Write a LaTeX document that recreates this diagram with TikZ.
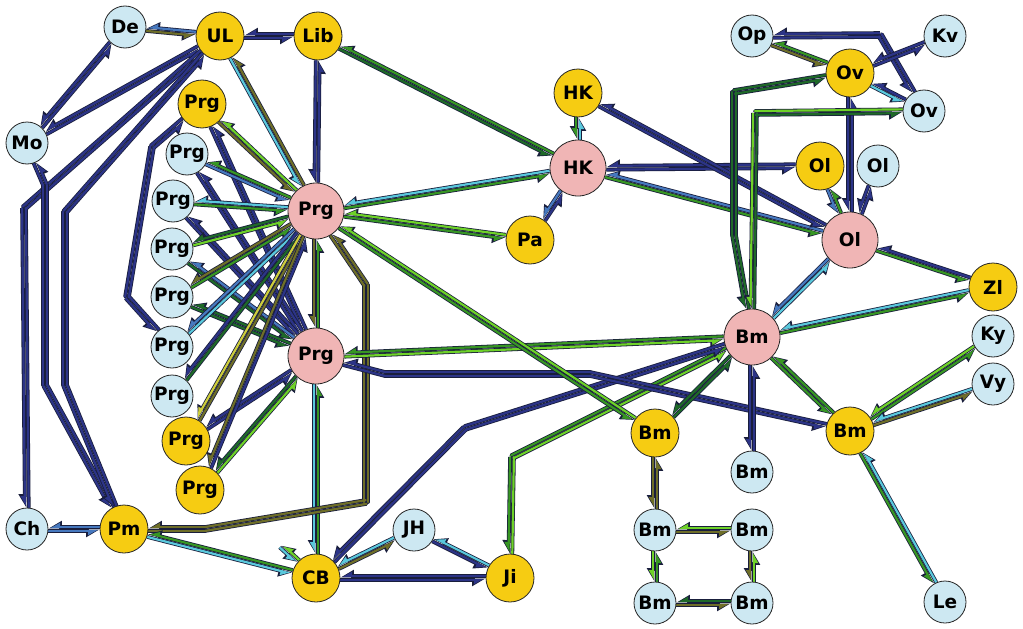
\documentclass[tikz,border=0pt]{standalone}
\usepackage{fontspec}
\setmainfont{DejaVu Sans}
\usetikzlibrary{calc,arrows.meta}
\pgfdeclarelayer{bg}
\pgfsetlayers{bg,main}
\definecolor{nv}{RGB}{44,52,135}
\definecolor{dg}{RGB}{30,105,40}
\definecolor{gr}{RGB}{55,150,35}
\definecolor{lg}{RGB}{110,210,40}
\definecolor{ol}{RGB}{110,110,40}
\definecolor{cy}{RGB}{90,200,220}
\definecolor{sb}{RGB}{70,120,190}
\definecolor{yl}{RGB}{205,205,60}
\definecolor{edk}{RGB}{25,30,60}
\definecolor{lbc}{RGB}{205,232,242}
\definecolor{ywc}{RGB}{246,204,18}
\definecolor{pkc}{RGB}{240,181,181}
\newcommand\boff{1.9pt}
\tikzset{
 nd/.style={circle, draw=black!85, line width=0.8pt, inner sep=0pt, font=\fontsize{18.5}{18.5}\selectfont\bfseries},
 lbn/.style={nd, fill=lbc, minimum size=42pt},
 ywn/.style={nd, fill=ywc, minimum size=48pt},
 pkn/.style={nd, fill=pkc, minimum size=56pt},
 bo/.style={line width=3.8pt, draw=edk},
 bi/.style={line width=2.2pt, draw=#1},
 tipo/.style={-{Triangle[harpoon,swap,length=11pt,width=12pt]}},
 tipi/.style={-{Triangle[harpoon,swap,length=8pt,width=8pt]}, shorten >=1.6pt},
}
\newcommand\segO[3]{\ifnum#3=1\relax
 \draw[bo,tipo] ($(#1)!\boff!-90:(#2)$) -- ($(#2)!\boff!90:(#1)$);\else
 \draw[bo,line cap=round] ($(#1)!\boff!-90:(#2)$) -- ($(#2)!\boff!90:(#1)$);\fi}
\newcommand\segI[4]{\ifnum#4=1\relax
 \draw[bi=#3,tipi] ($(#1)!\boff!-90:(#2)$) -- ($(#2)!\boff!90:(#1)$);\else
 \draw[bi=#3,line cap=round] ($(#1)!\boff!-90:(#2)$) -- ($(#2)!\boff!90:(#1)$);\fi}
% straight edge: a, b, colour a->b, colour b->a
\newcommand\E[4]{%
 \path (#1) -- (#2) coordinate[pos=0] (s) coordinate[pos=1] (t);
 \segO{s}{t}{1}\segO{t}{s}{1}\segI{s}{t}{#3}{1}\segI{t}{s}{#4}{1}}
% one bend
\newcommand\EB[5]{%
 \path (#1) -- (#2) coordinate[pos=0] (s);
 \path (#2) -- (#3) coordinate[pos=1] (t);
 \segO{s}{#2}{0}\segO{#2}{t}{1}\segO{t}{#2}{0}\segO{#2}{s}{1}%
 \segI{s}{#2}{#4}{0}\segI{#2}{t}{#4}{1}\segI{t}{#2}{#5}{0}\segI{#2}{s}{#5}{1}}
% two bends
\newcommand\EBB[6]{%
 \path (#1) -- (#2) coordinate[pos=0] (s);
 \path (#3) -- (#4) coordinate[pos=1] (t);
 \segO{s}{#2}{0}\segO{#2}{#3}{0}\segO{#3}{t}{1}\segO{t}{#3}{0}\segO{#3}{#2}{0}\segO{#2}{s}{1}%
 \segI{s}{#2}{#5}{0}\segI{#2}{#3}{#5}{0}\segI{#3}{t}{#5}{1}\segI{t}{#3}{#6}{0}\segI{#3}{#2}{#6}{0}\segI{#2}{s}{#6}{1}}
% three bends
\newcommand\EBBB[7]{%
 \path (#1) -- (#2) coordinate[pos=0] (s);
 \path (#4) -- (#5) coordinate[pos=1] (t);
 \segO{s}{#2}{0}\segO{#2}{#3}{0}\segO{#3}{#4}{0}\segO{#4}{t}{1}%
 \segO{t}{#4}{0}\segO{#4}{#3}{0}\segO{#3}{#2}{0}\segO{#2}{s}{1}%
 \segI{s}{#2}{#6}{0}\segI{#2}{#3}{#6}{0}\segI{#3}{#4}{#6}{0}\segI{#4}{t}{#6}{1}%
 \segI{t}{#4}{#7}{0}\segI{#4}{#3}{#7}{0}\segI{#3}{#2}{#7}{0}\segI{#2}{s}{#7}{1}}
\begin{document}
\begin{tikzpicture}[x=1pt,y=-1pt]
\useasboundingbox (0,0) rectangle (1023,629);
% nodes
\node[lbn] (De) at (125,27) {De};
\node[ywn] (UL) at (220,36) {UL};
\node[ywn] (Lib) at (318,36) {Lib};
\node[lbn] (Mo) at (27,143) {Mo};
\node[ywn] (Y1) at (202,104) {Prg};
\node[lbn] (A) at (187,154) {Prg};
\node[lbn] (B) at (173,201) {Prg};
\node[lbn] (C) at (172,249) {Prg};
\node[lbn] (D) at (172,297) {Prg};
\node[lbn] (E) at (172,347) {Prg};
\node[lbn] (F) at (172,396) {Prg};
\node[ywn] (G) at (186,441) {Prg};
\node[ywn] (H) at (200,490) {Prg};
\node[pkn] (P1) at (316,211) {Prg};
\node[pkn] (P2) at (316,356) {Prg};
\node[lbn] (Ch) at (27,529) {Ch};
\node[ywn] (Pm) at (124,529) {Pm};
\node[ywn] (CB) at (316,578) {CB};
\node[lbn] (JH) at (414,530) {JH};
\node[ywn] (Ji) at (510,578) {Ji};
\node[ywn] (HK1) at (578,93) {HK};
\node[pkn] (HK2) at (578,168) {HK};
\node[ywn] (Pa) at (530,240) {Pa};
\node[lbn] (Op) at (752,36) {Op};
\node[lbn] (Kv) at (945,36) {Kv};
\node[ywn] (V1) at (850,73) {Ov};
\node[lbn] (V2) at (924,111) {Ov};
\node[ywn] (O1) at (820,166) {Ol};
\node[lbn] (O2) at (878,166) {Ol};
\node[pkn] (O0) at (850,240) {Ol};
\node[ywn] (Zl) at (993,287) {Zl};
\node[pkn] (B0) at (752,337) {Bm};
\node[lbn] (Ky) at (993,336) {Ky};
\node[lbn] (Vy) at (993,384) {Vy};
\node[ywn] (BL) at (655,433) {Bm};
\node[lbn] (B1) at (752,472) {Bm};
\node[ywn] (BR) at (850,431) {Bm};
\node[lbn] (B2) at (655,530) {Bm};
\node[lbn] (B3) at (752,530) {Bm};
\node[lbn] (B4) at (655,603) {Bm};
\node[lbn] (B5) at (752,603) {Bm};
\node[lbn] (Le) at (945,602) {Le};
% bend points
\coordinate (k1) at (24,208);
\coordinate (k2) at (45,185);
\coordinate (k3) at (45,385);
\coordinate (k4) at (65,212);
\coordinate (k5) at (65,385);
\coordinate (k6) at (152,147);
\coordinate (k7) at (127,297);
\coordinate (k8) at (366,285);
\coordinate (k9) at (366,502);
\coordinate (k10) at (205,529);
\coordinate (k11) at (512,457);
\coordinate (k12) at (465,428);
\coordinate (k13) at (385,374);
\coordinate (k14) at (590,374);
\coordinate (k15) at (880,35);
\coordinate (k16) at (734,92);
\coordinate (k17) at (734,235);
\coordinate (k18) at (755,113);
\coordinate (k19) at (281,546);
\begin{pgfonlayer}{bg}
\fill[white] (0,0) rectangle (1023,629);
\E{De}{UL}{ol}{sb}
\E{UL}{Lib}{nv}{nv}
\E{De}{Mo}{nv}{nv}
\E{UL}{Mo}{nv}{nv}
\EB{UL}{k1}{Ch}{nv}{nv}
\EBB{Mo}{k2}{k3}{Pm}{nv}{nv}
\EBB{UL}{k4}{k5}{Pm}{nv}{nv}
\E{Ch}{Pm}{sb}{sb}
\E{UL}{P1}{cy}{ol}
\E{Lib}{P1}{nv}{nv}
\E{Lib}{HK2}{dg}{gr}
\E{Y1}{P1}{ol}{lg}
\E{Y1}{P2}{nv}{nv}
\E{A}{P1}{sb}{gr}
\E{A}{P2}{nv}{nv}
\E{B}{P1}{gr}{cy}
\E{B}{P2}{nv}{nv}
\E{C}{P1}{lg}{dg}
\E{C}{P2}{dg}{sb}
\E{D}{P1}{gr}{ol}
\E{D}{P2}{dg}{dg}
\E{E}{P1}{cy}{sb}
\E{F}{P1}{dg}{nv}
\E{G}{P1}{ol}{yl}
\E{G}{P2}{nv}{nv}
\E{H}{P1}{nv}{ol}
\E{H}{P2}{lg}{dg}
\EBB{Y1}{k6}{k7}{E}{nv}{nv}
\E{P1}{P2}{ol}{gr}
\E{P2}{CB}{cy}{gr}
\EBBB{P1}{k8}{k9}{k10}{Pm}{ol}{ol}
\E{Pm}{CB}{cy}{gr}
\E{CB}{JH}{ol}{cy}
\E{CB}{Ji}{nv}{nv}
\E{JH}{Ji}{nv}{cy}
\E{CB}{k19}{lg}{cy}
\EB{Ji}{k11}{B0}{lg}{gr}
\EB{CB}{k12}{B0}{nv}{nv}
\E{P2}{B0}{lg}{gr}
\EBB{P2}{k13}{k14}{BR}{nv}{nv}
\E{P1}{BL}{gr}{lg}
\E{P1}{Pa}{gr}{lg}
\E{P1}{HK2}{gr}{cy}
\E{HK1}{HK2}{gr}{cy}
\E{HK2}{Pa}{sb}{nv}
\E{HK2}{O1}{nv}{nv}
\E{HK2}{O0}{gr}{sb}
\E{HK1}{O0}{nv}{nv}
\E{O1}{O0}{sb}{gr}
\E{O2}{O0}{nv}{nv}
\E{V1}{O0}{nv}{nv}
\E{Op}{V1}{ol}{gr}
\EB{Op}{k15}{V2}{nv}{nv}
\E{Kv}{V1}{nv}{nv}
\E{V1}{V2}{cy}{nv}
\EBB{V1}{k16}{k17}{B0}{dg}{dg}
\EB{V2}{k18}{B0}{lg}{dg}
\E{O0}{B0}{sb}{cy}
\E{O0}{Zl}{gr}{nv}
\E{Zl}{B0}{cy}{gr}
\E{B0}{BR}{gr}{gr}
\E{B0}{BL}{dg}{dg}
\E{B0}{B1}{nv}{nv}
\E{BR}{Ky}{gr}{lg}
\E{BR}{Vy}{ol}{cy}
\E{Le}{BR}{cy}{gr}
\E{BL}{B2}{ol}{ol}
\E{B3}{B2}{lg}{ol}
\E{B2}{B4}{lg}{gr}
\E{B3}{B5}{ol}{lg}
\E{B5}{B4}{dg}{ol}
\end{pgfonlayer}
\end{tikzpicture}
\end{document}
